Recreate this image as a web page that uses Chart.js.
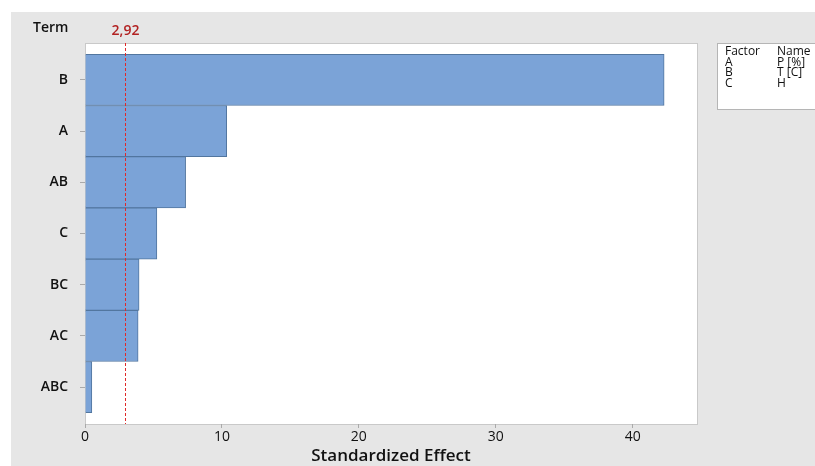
<!DOCTYPE html>
<html>
<head>
<meta charset="utf-8">
<script src="https://cdn.jsdelivr.net/npm/chart.js@4/dist/chart.umd.min.js"></script>
<style>
  html, body { margin: 0; padding: 0; background: #fff; }
  #wrap { width: 815px; height: 466px; }
</style>
</head>
<body>
<div id="wrap"><canvas id="pareto" width="815" height="466"></canvas></div>
<script>
// Pareto chart of standardized effects
const terms = ["B", "A", "AB", "C", "BC", "AC", "ABC"];
const effects = [42.3, 10.35, 7.35, 5.25, 3.95, 3.88, 0.5];
const xTicks = [0, 10, 20, 30, 40];
const critical = 2.92;
const criticalLabel = "2,92";
const factorRows = [["Factor", "Name"], ["A", "P [%]"], ["B", "T [C]"], ["C", "H"]];

const font = "'Open Sans', 'Noto Sans', sans-serif";

// grey panel behind everything, white plot area
const backdrop = {
  id: "backdrop",
  beforeDraw(chart) {
    const c = chart.ctx;
    const a = chart.chartArea;
    c.save();
    c.fillStyle = "#ffffff";
    c.fillRect(0, 0, chart.width, chart.height);
    c.fillStyle = "#e6e6e6";
    c.fillRect(11, 12, chart.width - 11, chart.height - 12);
    c.fillStyle = "#ffffff";
    c.fillRect(a.left, a.top, a.right - a.left, a.bottom - a.top);
    c.strokeStyle = "#c9c9c9";
    c.lineWidth = 1;
    c.strokeRect(a.left + 0.5, a.top + 0.5, a.right - a.left, a.bottom - a.top);
    c.restore();
  },
};

// dashed reference line + legend table + "Term" label
const extras = {
  id: "extras",
  afterDatasetsDraw(chart) {
    const c = chart.ctx;
    const a = chart.chartArea;
    const x = Math.round(chart.scales.x.getPixelForValue(critical)) + 0.5;
    c.save();
    c.strokeStyle = "#e02828";
    c.lineWidth = 1;
    c.setLineDash([3, 2]);
    c.beginPath();
    c.moveTo(x, a.top);
    c.lineTo(x, a.bottom);
    c.stroke();
    c.setLineDash([]);

    c.fillStyle = "#b22222";
    c.font = "600 14px " + font;
    c.textAlign = "center";
    c.textBaseline = "middle";
    c.fillText(criticalLabel, x, 31);

    c.fillStyle = "#111";
    c.font = "600 14px " + font;
    c.textAlign = "left";
    c.fillText("Term", 33, 28);

    // factor table
    c.fillStyle = "#ffffff";
    c.fillRect(717, 43, 110, 67);
    c.strokeStyle = "#b5b5b5";
    c.strokeRect(717.5, 43.5, 110, 66);
    c.fillStyle = "#111";
    c.font = "12px " + font;
    factorRows.forEach((row, i) => {
      const y = 52 + i * 10.4;
      c.fillText(row[0], 725, y);
      c.fillText(row[1], 777, y);
    });
    c.restore();
  },
};

new Chart(document.getElementById("pareto"), {
  type: "bar",
  data: {
    datasets: [
      {
        data: effects.map((v, i) => ({ x: v, y: i })),
        backgroundColor: "#7ba3d7",
        borderColor: "#52769f",
        borderWidth: 1,
        barPercentage: 1,
        categoryPercentage: 1,
      },
    ],
  },
  options: {
    indexAxis: "y",
    responsive: false,
    animation: false,
    layout: { padding: { top: 43, right: 118, left: 0, bottom: 0 } },
    plugins: { legend: { display: false }, tooltip: { enabled: false } },
    scales: {
      y: {
        type: "linear",
        reverse: true,
        offset: false,
        min: -0.72,
        max: 6.72,
        afterFit(s) { s.width = 85; },
        afterBuildTicks(s) {
          s.ticks = terms.map((t, i) => ({ value: i }));
        },
        ticks: {
          callback: (v) => terms[v],
          color: "#111",
          font: { family: font, size: 14, weight: "600" },
          padding: 12,
        },
        grid: { offset: false, drawOnChartArea: false, color: "#aaa", tickLength: 5 },
        border: { display: false },
      },
      x: {
        type: "linear",
        min: 0,
        max: 44.7,
        afterFit(s) { s.height = 42; },
        afterBuildTicks(s) {
          s.ticks = xTicks.map((v) => ({ value: v }));
        },
        ticks: {
          color: "#111",
          font: { family: font, size: 14 },
          padding: 1,
        },
        grid: { drawOnChartArea: false, color: "#aaa", tickLength: 4 },
        border: { display: false },
        title: {
          display: true,
          text: "Standardized Effect",
          color: "#111",
          font: { family: font, size: 17, weight: "600" },
          padding: { top: 0, bottom: 0 },
        },
      },
    },
  },
  plugins: [backdrop, extras],
});
</script>
</body>
</html>
